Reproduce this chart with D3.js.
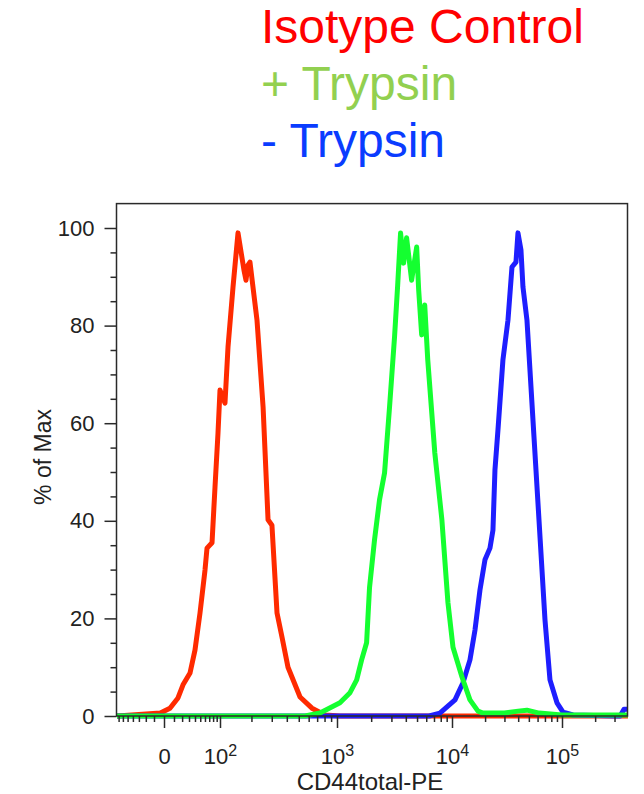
<!DOCTYPE html>
<html>
<head>
<meta charset="utf-8">
<script src="https://cdn.jsdelivr.net/npm/d3@7"></script>
<style>
  body { margin: 0; background: #fff; }
  svg { display: block; font-family: "Liberation Sans", Arial, sans-serif; }
</style>
</head>
<body>
<div id="chart"></div>
<script>
// legend / series names
const seriesNames = ["Isotype Control", "+ Trypsin", "- Trypsin"];

// Isotype control (PE intensity, % of max)
const isoX = [-74, -3.4, 5.7, 14.7, 21.2, 31.6, 40, 49.5, 60.1, 64.7, 77.1, 85.2, 93.9, 100, 112.5, 120.6, 135, 150.6,
  171, 178.6, 186, 194, 224, 253, 279, 301, 332, 365, 409, 512, 637, 807, 1062, 397700];
const isoY = [0, 0.6, 1.6, 3.7, 6.4, 8.8, 13.5, 21.1, 29.9, 34.4, 35.5, 46.9, 58, 66.8, 64.1, 75.6, 87.9, 99,
  91.4, 89.3, 92.4, 93, 81.1, 63.3, 40.2, 39.1, 21.1, 16.2, 10, 3.9, 1.6, 0.2, 0, 0];

// + Trypsin
const plusX = [-74, 561, 737, 1062, 1297, 1493, 1650, 1824, 1936, 2140, 2365, 2615, 2890, 3194, 3392, 3602, 3824, 4062,
  4489, 4963, 5164, 5483, 5824, 6184, 7115, 8185, 9231, 10211, 12330, 14574, 17236, 19130, 30000, 40000, 48000,
  62000, 100000, 397700];
const plusY = [0, 0, 0.6, 2.7, 4.7, 7.4, 11.5, 15, 26.4, 36.1, 44.3, 49.8, 63.3, 77.7, 87.9, 99, 92.8, 98,
  89.3, 96.1, 87.3, 78.1, 84.2, 73, 53.9, 40.2, 23.2, 14.1, 8, 3.3, 1, 0.6, 0.6, 1, 1.2,
  0.6, 0.2, 0.2];

// - Trypsin
const minusX = [-74, 6368, 7865, 10648, 12589, 14574, 16189, 17967, 19953, 22155, 23592, 24598, 26196, 29075, 32295,
  35125, 38179, 39811, 42393, 44208, 48071, 55667, 61797, 70066, 77782, 90058, 102100, 125900, 303300, 337300, 366000, 397700];
const minusY = [0, 0, 0.6, 3.3, 6.8, 11.5, 17.6, 25.8, 32, 34.4, 38.1, 50.4, 58.6, 73, 81.1,
  92, 93, 99, 95.5, 87.9, 81.1, 57.2, 40.2, 19.7, 7.4, 2.7, 0.8, 0.2, 0, 0, 1.4, 1.4];

// axis ticks
const xMajor = [0, 100, 1000, 10000, 100000];
const xMinor = [-70, -60, -50, -40, -30, -20, -10, 10, 20, 30, 40, 50, 60, 70, 80, 90,
  200, 300, 400, 500, 600, 700, 800, 900, 2000, 3000, 4000, 5000, 6000, 7000, 8000, 9000,
  20000, 30000, 40000, 50000, 60000, 70000, 80000, 90000, 200000, 300000];
const yMajor = [0, 20, 40, 60, 80, 100];
const yMinor = [5, 10, 15, 25, 30, 35, 45, 50, 55, 65, 70, 75, 85, 90, 95];

const legendColors = ["#ff0000", "#92d050", "#0a3cff"];
const lineColors = ["#ff2a00", "#14ff30", "#1e1eff"];

const width = 644, height = 794;

const svg = d3.select("#chart").append("svg")
  .attr("width", width)
  .attr("height", height);

// biexponential display: symlog transform, then stretched so each decade lands where the cytometer put it
const xDomain = [-74, 0, 100, 1000, 10000, 100000, 397700];
const xPixels = [117, 164, 220, 337, 452, 562, 628];
const base = d3.scaleSymlog().constant(40).domain([-74, 397700]).range([0, 1]);
const warp = d3.scaleLinear().domain(xDomain.map(base)).range(xPixels);
const x = v => warp(base(v));

const y = d3.scaleLinear().domain([0, 100]).range([716, 228]);

const axisColor = "#2a2a2a";

// curves (drawn red, blue, green like the original overlay)
const series = [
  { xs: isoX, ys: isoY, color: lineColors[0] },
  { xs: minusX, ys: minusY, color: lineColors[2] },
  { xs: plusX, ys: plusY, color: lineColors[1] }
];

const line = d3.line()
  .x(d => x(d[0]))
  .y(d => y(d[1]));

svg.append("clipPath").attr("id", "plot-clip")
  .append("rect")
  .attr("x", 117).attr("y", y(105))
  .attr("width", 511).attr("height", y(0) - y(105) + 4);

svg.append("g")
  .attr("clip-path", "url(#plot-clip)")
  .selectAll("path")
  .data(series)
  .join("path")
  .attr("fill", "none")
  .attr("stroke", d => d.color)
  .attr("stroke-width", 5)
  .attr("stroke-linejoin", "round")
  .attr("stroke-linecap", "round")
  .attr("d", d => line(d.xs.map((v, i) => [v, d.ys[i]])));

// frame
svg.append("rect")
  .attr("x", 116.5)
  .attr("y", y(105))
  .attr("width", 627.5 - 116.5)
  .attr("height", y(0) - y(105))
  .attr("fill", "none")
  .attr("stroke", axisColor)
  .attr("stroke-width", 1.5);

// y axis
svg.append("g")
  .attr("transform", "translate(116.5,0)")
  .call(d3.axisLeft(y).tickValues(yMajor).tickSize(12).tickPadding(10));
svg.append("g")
  .attr("transform", "translate(116.5,0)")
  .call(d3.axisLeft(y).tickValues(yMinor).tickSize(6).tickFormat(""));

// x axis (ticks placed in warped space)
const xAxis = svg.append("g")
  .attr("transform", "translate(0,716)")
  .call(d3.axisBottom(warp).tickValues(xMajor.map(base)).tickSize(12).tickPadding(20)
    .tickFormat((d, i) => xMajor[i] === 0 ? "0" : "10"));
svg.append("g")
  .attr("transform", "translate(0,716)")
  .call(d3.axisBottom(warp).tickValues(xMinor.map(base)).tickSize(6).tickFormat(""));

svg.selectAll(".domain").remove();
svg.selectAll(".tick line").attr("stroke", axisColor).attr("stroke-width", 1.5);
svg.selectAll(".tick text")
  .attr("fill", "#222")
  .style("font-size", "22px")
  .style("font-family", "'Liberation Sans', Arial, sans-serif");

// superscript exponents on the decade labels
xAxis.selectAll(".tick text").each(function (d, i) {
  if (xMajor[i] > 0) {
    d3.select(this).append("tspan")
      .attr("dy", "-0.45em")
      .style("font-size", "16px")
      .text(Math.round(Math.log10(xMajor[i])));
  }
});

// axis titles
svg.append("text")
  .attr("x", 370)
  .attr("y", 790)
  .attr("text-anchor", "middle")
  .attr("fill", "#222")
  .style("font-size", "24px")
  .text("CD44total-PE");

svg.append("text")
  .attr("transform", "translate(51,457) rotate(-90)")
  .attr("text-anchor", "middle")
  .attr("fill", "#222")
  .style("font-size", "23px")
  .text("% of Max");

// legend
svg.append("g")
  .selectAll("text")
  .data(seriesNames)
  .join("text")
  .attr("x", 261)
  .attr("y", (d, i) => 43 + i * 57)
  .attr("fill", (d, i) => legendColors[i])
  .style("font-size", "48px")
  .text(d => d);
</script>
</body>
</html>
